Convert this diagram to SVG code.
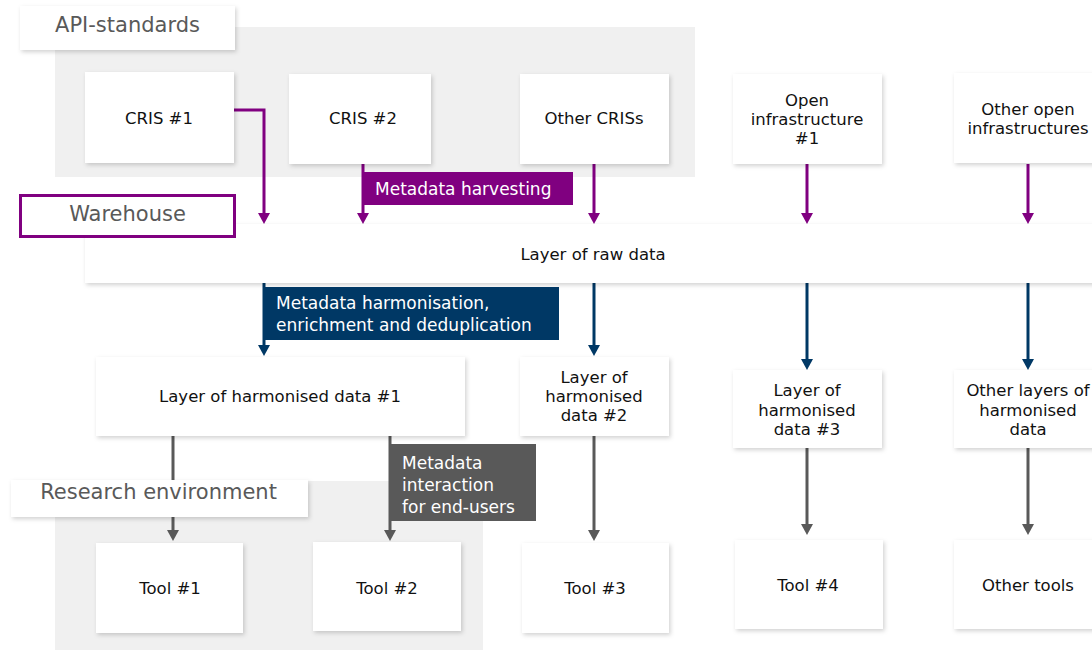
<svg xmlns="http://www.w3.org/2000/svg" width="1092" height="650" viewBox="0 0 1092 650">
<defs>
<filter id="sh" x="-10%" y="-10%" width="125%" height="130%">
<feDropShadow dx="1.5" dy="2" stdDeviation="2" flood-color="#000" flood-opacity="0.18"/>
</filter>
</defs>
<style>
.box{fill:#fff;filter:url(#sh)}
.t{font-family:"DejaVu Sans",Verdana,sans-serif;font-size:16.5px;fill:#111;text-anchor:middle}
.lab{font-family:"DejaVu Sans",Verdana,sans-serif;font-size:21px;fill:#595959;text-anchor:middle}
.wt{font-family:"DejaVu Sans",Verdana,sans-serif;font-size:17px;fill:#fff}
.p{stroke:#800080;stroke-width:3;fill:none}
.b{stroke:#003865;stroke-width:3;fill:none}
.g{stroke:#595959;stroke-width:3;fill:none}
.hp{fill:#800080}.hb{fill:#003865}.hg{fill:#595959}
</style>
<rect width="1092" height="650" fill="#fff"/>
<g id="api-region">
<rect x="55" y="27" width="640" height="150" fill="#f0f0f0"/>
</g>
<g id="research-region">
<rect x="55" y="481" width="428" height="169" fill="#f0f0f0"/>
</g>
<g id="api-label"><rect class="box" x="20" y="6" width="215" height="44"/><text class="lab" x="127.5" y="32">API-standards</text></g>

<g id="connectors">
<path class="p" d="M234,110 H264 V214"/><path class="hp" d="M258,213 H270 L264,224 z"/>
<path class="p" d="M363,164 V214"/><path class="hp" d="M357,213 H369 L363,224 z"/>
<path class="p" d="M594,164 V214"/><path class="hp" d="M588,213 H600 L594,224 z"/>
<path class="p" d="M807,164 V214"/><path class="hp" d="M801,213 H813 L807,224 z"/>
<path class="p" d="M1028,164 V214"/><path class="hp" d="M1022,213 H1034 L1028,224 z"/>
<path class="b" d="M264,283 V346"/><path class="hb" d="M258,345 H270 L264,356 z"/>
<path class="b" d="M594,283 V346"/><path class="hb" d="M588,345 H600 L594,356 z"/>
<path class="b" d="M807,283 V360"/><path class="hb" d="M801,359 H813 L807,370 z"/>
<path class="b" d="M1028,283 V360"/><path class="hb" d="M1022,359 H1034 L1028,370 z"/>
<path class="g" d="M173,436 V531"/><path class="hg" d="M167,530 H179 L173,541 z"/>
<path class="g" d="M390,436 V531"/><path class="hg" d="M384,530 H396 L390,541 z"/>
<path class="g" d="M594,436 V531"/><path class="hg" d="M588,530 H600 L594,541 z"/>
<path class="g" d="M807,448 V525"/><path class="hg" d="M801,524 H813 L807,535 z"/>
<path class="g" d="M1028,448 V525"/><path class="hg" d="M1022,524 H1034 L1028,535 z"/>
</g>

<g id="cris1"><rect class="box" x="85" y="72" width="149" height="91"/><text class="t" x="159" y="124">CRIS #1</text></g>
<g id="cris2"><rect class="box" x="289" y="74" width="142" height="90"/><text class="t" x="363" y="124">CRIS #2</text></g>
<g id="other-cris"><rect class="box" x="520" y="74" width="149" height="90"/><text class="t" x="594" y="124">Other CRISs</text></g>
<g id="open-infra1"><rect class="box" x="733" y="74" width="149" height="90"/><text class="t" x="807" y="106">Open</text><text class="t" x="807" y="125">infrastructure</text><text class="t" x="807" y="144">#1</text></g>
<g id="other-open"><rect class="box" x="954" y="73" width="150" height="90"/><text class="t" x="1028" y="115">Other open</text><text class="t" x="1028" y="134">infrastructures</text></g>

<g id="harvest-label"><rect x="363" y="172" width="210" height="33" fill="#800080"/><text class="wt" x="375" y="195">Metadata harvesting</text></g>

<g id="raw-data"><rect class="box" x="85" y="224" width="1012" height="59"/><text class="t" x="593" y="260">Layer of raw data</text></g>

<g id="warehouse-label"><rect x="20.5" y="195.5" width="214" height="41" fill="#fff" stroke="#800080" stroke-width="3"/><text class="lab" x="127.5" y="221">Warehouse</text></g>

<g id="harmonise-label"><rect x="263" y="287" width="296" height="53" fill="#003865"/><text class="wt" x="276" y="309">Metadata harmonisation,</text><text class="wt" x="276" y="331">enrichment and deduplication</text></g>

<g id="harm1"><rect class="box" x="96" y="357" width="369" height="79"/><text class="t" x="280" y="402">Layer of harmonised data #1</text></g>
<g id="harm2"><rect class="box" x="520" y="357" width="149" height="79"/><text class="t" x="594" y="383">Layer of</text><text class="t" x="594" y="402">harmonised</text><text class="t" x="594" y="421">data #2</text></g>
<g id="harm3"><rect class="box" x="733" y="370" width="149" height="78"/><text class="t" x="807" y="396">Layer of</text><text class="t" x="807" y="416">harmonised</text><text class="t" x="807" y="435">data #3</text></g>
<g id="harm-other"><rect class="box" x="954" y="370" width="150" height="78"/><text class="t" x="1028" y="396">Other layers of</text><text class="t" x="1028" y="416">harmonised</text><text class="t" x="1028" y="435">data</text></g>

<g id="research-label"><rect class="box" x="11" y="480" width="297" height="37"/><text class="lab" x="158.5" y="499">Research environment</text></g>

<g id="interaction-label"><rect x="390" y="444" width="146" height="77" fill="#595959"/><text class="wt" x="402" y="469">Metadata</text><text class="wt" x="402" y="491">interaction</text><text class="wt" x="402" y="513">for end-users</text></g>

<g id="tool1"><rect class="box" x="96" y="543" width="147" height="90"/><text class="t" x="170" y="594">Tool #1</text></g>
<g id="tool2"><rect class="box" x="313" y="542" width="148" height="89"/><text class="t" x="387" y="594">Tool #2</text></g>
<g id="tool3"><rect class="box" x="522" y="543" width="147" height="90"/><text class="t" x="595" y="594">Tool #3</text></g>
<g id="tool4"><rect class="box" x="735" y="540" width="148" height="89"/><text class="t" x="808" y="591">Tool #4</text></g>
<g id="tool-other"><rect class="box" x="954" y="540" width="150" height="89"/><text class="t" x="1028" y="591">Other tools</text></g>
</svg>
